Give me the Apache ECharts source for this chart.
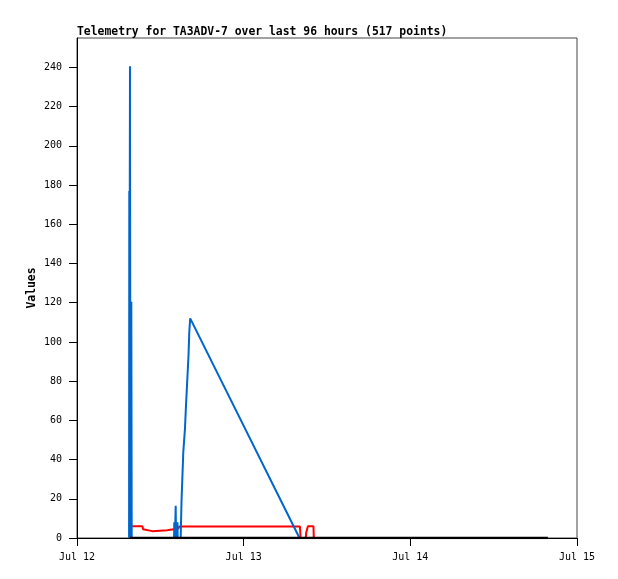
<!DOCTYPE html>
<html>
<head>
<meta charset="utf-8">
<script src="https://cdn.jsdelivr.net/npm/echarts@6/dist/echarts.min.js"></script>
<style>html,body{margin:0;padding:0;background:#fff;}#c{width:618px;height:579px;}</style>
</head>
<body>
<div id="c"></div>
<script>
// Time in hours since Jul 12 00:00
var xTickHours = [0, 24, 48, 72];
var xTickLabels = ['Jul 12', 'Jul 13', 'Jul 14', 'Jul 15'];
var yTicks = [0, 20, 40, 60, 80, 100, 120, 140, 160, 180, 200, 220, 240];

var blueTimes  = [7.50, 7.53, 7.55, 7.60, 7.63, 7.70, 7.82, 7.88, 13.97, 14.01, 14.10, 14.16, 14.21, 14.26, 14.34, 14.42, 14.47, 14.50, 14.93, 15.05, 15.31, 15.55, 15.70, 15.88, 16.06, 16.17, 16.30, 32.04];
var blueValues = [0, 177, 0, 177, 240.6, 0, 120.5, 0, 0, 8, 0, 8, 16.5, 0, 8, 0, 8, 0, 0, 18.8, 44, 56, 68, 80.6, 93.3, 105.2, 112, 0];

var redTimes  = [7.95, 9.43, 9.50, 9.70, 10.85, 10.90, 12.98, 13.00, 14.62, 14.70, 32.10, 32.20, 32.95, 33.00, 33.20, 33.25, 34.05, 34.10];
var redValues = [6, 6, 4.5, 3.5, 3.5, 4, 4, 4.8, 4.8, 5.9, 5.9, 0, 0, 2.7, 2.7, 6, 6, 0];

var blackTimes  = [7.62, 67.8];
var blackValues = [0, 0];

function zip(t, v) { return t.map(function (x, i) { return [x, v[i]]; }); }

var font = 'DejaVu Sans Mono';
var chart = echarts.init(document.getElementById('c'), null, {renderer: 'canvas'});
chart.setOption({
  animation: false,
  backgroundColor: '#fff',
  title: {
    text: 'Telemetry for TA3ADV-7 over last 96 hours (517 points)',
    left: 72, top: 22,
    textStyle: {fontFamily: font, fontSize: 11.4, fontWeight: 'bold', color: '#000'}
  },
  grid: {left: 77, right: 41, top: 38, bottom: 41, show: true, borderColor: '#444', borderWidth: 1, backgroundColor: 'transparent'},
  xAxis: {
    type: 'value', min: 0, max: 72, interval: 24,
    axisLine: {show: true, onZero: false, lineStyle: {color: '#000', width: 1}},
    axisTick: {show: true, inside: false, length: 8, lineStyle: {color: '#000'}, customValues: xTickHours},
    axisLabel: {
      customValues: xTickHours,
      margin: 14, color: '#000', fontFamily: font, fontSize: 10,
      formatter: function (v) { var i = xTickHours.indexOf(v); return i >= 0 ? xTickLabels[i] : ''; }
    },
    splitLine: {show: false}
  },
  yAxis: {
    type: 'value', min: 0, max: 255, interval: 20,
    name: 'Values', nameLocation: 'middle', nameGap: 39, nameMoveOverlap: false,
    nameTextStyle: {fontFamily: font, fontSize: 11.4, fontWeight: 'bold', color: '#000'},
    axisLine: {show: true, lineStyle: {color: '#000', width: 1}},
    axisTick: {show: true, length: 8, lineStyle: {color: '#000'}, customValues: yTicks},
    axisLabel: {customValues: yTicks, margin: 15, color: '#000', fontFamily: font, fontSize: 10},
    splitLine: {show: false}
  },
  series: [
    {type: 'line', data: zip(redTimes, redValues), showSymbol: false, symbol: 'none', lineStyle: {color: '#ff0000', width: 2}, z: 2},
    {type: 'line', data: zip(blueTimes, blueValues), showSymbol: false, symbol: 'none', lineStyle: {color: '#0066cc', width: 2}, z: 3},
    {type: 'line', data: zip(blackTimes, blackValues), showSymbol: false, symbol: 'none', lineStyle: {color: '#000', width: 2.5}, z: 4}
  ]
});
</script>
</body>
</html>
